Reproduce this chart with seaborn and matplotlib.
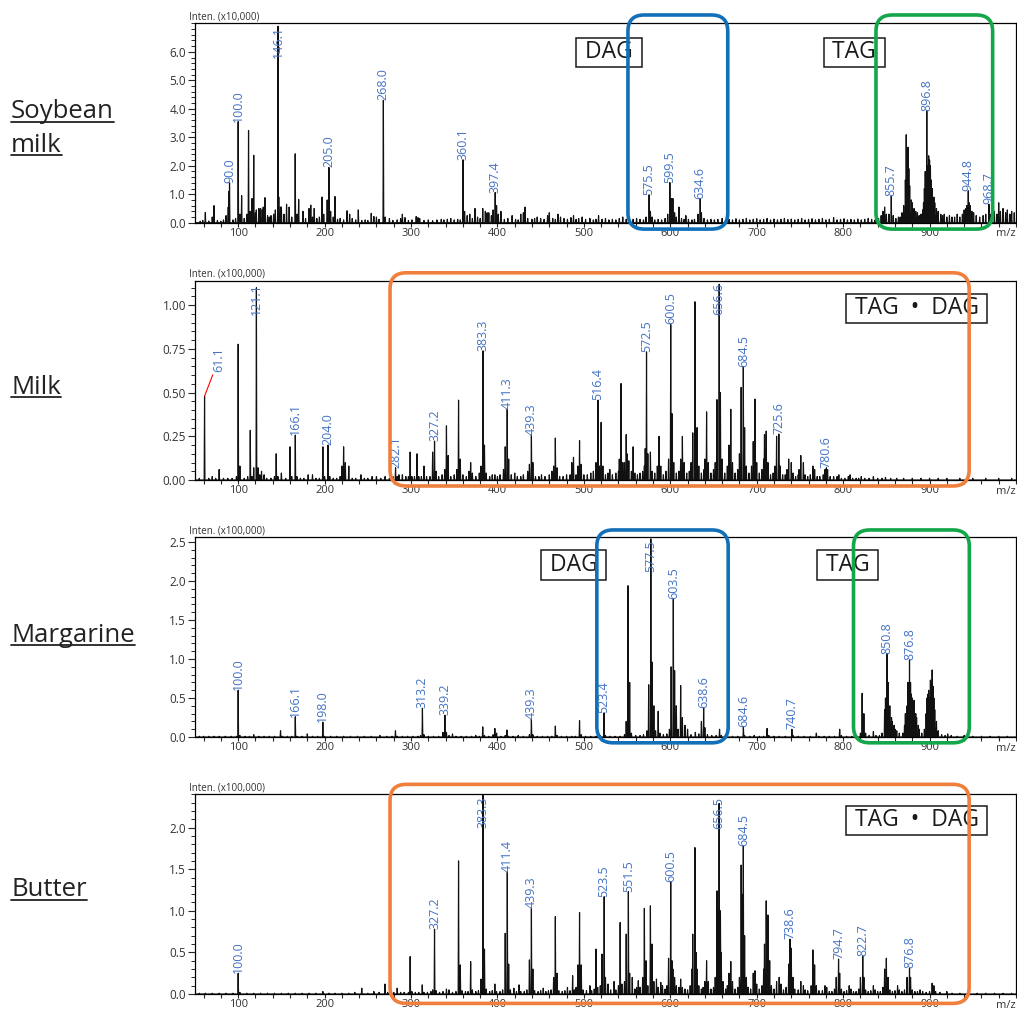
import pandas as pd
import seaborn as sns
import matplotlib.pyplot as plt
from matplotlib.patches import FancyBboxPatch
from matplotlib.lines import Line2D
from matplotlib.transforms import blended_transform_factory
from matplotlib.ticker import FixedLocator, MultipleLocator, FormatStrFormatter


# ---- data (m/z, relative intensity) ----
SOY_PEAKS = [
    (56, 0.05), (59, 0.08), (62, 0.36), (66, 0.06), (70, 0.2), (72, 0.6), (76, 0.08),
    (80, 0.05), (83, 0.1), (86, 0.25), (88.5, 0.55), (89.2, 1.1), (90.0, 1.4), (94, 0.1),
    (97, 0.15), (100.0, 3.55), (102, 0.3), (104, 0.95), (107, 0.15), (110, 0.3), (112, 3.24),
    (114, 0.4), (116, 0.85), (118, 2.37), (120, 0.35), (121, 0.45), (124, 0.5), (126, 0.5),
    (128, 0.45), (129, 0.55), (131, 0.88), (134, 0.25), (136, 0.2), (138, 0.25), (141, 0.3),
    (143, 0.45), (146.1, 6.9), (147, 0.9), (149, 0.55), (150, 0.55), (153, 0.3), (156, 0.65),
    (159, 0.55), (162, 0.2), (166, 2.42), (168, 0.3), (170, 0.82), (175, 0.4), (178, 0.15),
    (182, 0.5), (184, 0.62), (186, 0.2), (188, 0.5), (191, 0.15), (194, 0.2), (197, 0.9),
    (199, 0.3), (203, 0.8), (205.0, 1.94), (207, 0.4), (210, 0.2), (212, 0.92), (215, 0.12),
    (218, 0.15), (222, 0.1), (226, 0.42), (229, 0.3), (232, 0.15), (236, 0.1), (239, 0.45),
    (243, 0.08), (247, 0.1), (250, 0.08), (254, 0.33), (257, 0.22), (260, 0.2), (263, 0.12),
    (268.0, 4.3), (270, 0.2), (275, 0.15), (279, 0.08), (284, 0.1), (288, 0.15), (290, 0.3),
    (293, 0.18), (297, 0.08), (301, 0.1), (306, 0.22), (308, 0.18), (310, 0.15), (315, 0.08),
    (320, 0.1), (325, 0.07), (330, 0.1), (335, 0.12), (338, 0.1), (342, 0.12), (346, 0.15),
    (350, 0.1), (354, 0.12), (357, 0.1), (360.1, 2.21), (362, 0.4), (365, 0.25), (368, 0.3),
    (371, 0.15), (374, 0.5), (377, 0.2), (380, 0.15), (383, 0.5), (386, 0.4), (388, 0.35),
    (390, 0.35), (393, 0.25), (395, 0.45), (397.4, 1.06), (399, 0.6), (401, 0.3), (404, 0.4),
    (408, 0.12), (412, 0.15), (417, 0.25), (421, 0.12), (424, 0.1), (427, 0.3), (430, 0.35),
    (432, 0.55), (435, 0.15), (440, 0.12), (443, 0.15), (446, 0.2), (450, 0.15), (454, 0.12),
    (458, 0.25), (460, 0.35), (464, 0.15), (467, 0.12), (470, 0.3), (473, 0.2), (477, 0.15),
    (481, 0.12), (485, 0.18), (488, 0.25), (491, 0.12), (494, 0.15), (498, 0.2), (502, 0.12),
    (507, 0.15), (511, 0.1), (514, 0.12), (517, 0.25), (521, 0.12), (525, 0.15), (529, 0.1),
    (533, 0.12), (537, 0.1), (541, 0.15), (545, 0.2), (549, 0.12), (553, 0.1), (557, 0.12),
    (561, 0.15), (565, 0.12), (569, 0.1), (572, 0.2), (575.5, 0.98), (577, 0.4), (579, 0.2),
    (582, 0.1), (586, 0.12), (590, 0.1), (594, 0.15), (597, 0.3), (599.5, 1.41), (601, 0.85),
    (603, 0.85), (605, 0.35), (607, 0.2), (610, 0.55), (613, 0.15), (616, 0.12), (618, 0.25),
    (621, 0.12), (625, 0.1), (628, 0.12), (632, 0.3), (634.6, 0.85), (636, 0.35), (639, 0.15),
    (643, 0.1), (647, 0.12), (651, 0.1), (655, 0.12), (660, 0.15), (664, 0.1), (668, 0.12),
    (672, 0.1), (676, 0.14), (680, 0.1), (684, 0.12), (688, 0.15), (692, 0.1), (696, 0.12),
    (700, 0.14), (704, 0.1), (708, 0.12), (712, 0.15), (716, 0.1), (720, 0.13), (724, 0.1),
    (728, 0.12), (732, 0.15), (736, 0.11), (740, 0.13), (744, 0.1), (748, 0.12), (752, 0.15),
    (756, 0.1), (760, 0.12), (764, 0.14), (768, 0.1), (772, 0.12), (776, 0.15), (780, 0.1),
    (784, 0.12), (789, 0.18), (793, 0.1), (797, 0.12), (801, 0.14), (805, 0.1), (809, 0.12),
    (813, 0.1), (817, 0.13), (821, 0.1), (825, 0.12), (829, 0.15), (833, 0.12), (837, 0.1),
    (841, 0.15), (844, 0.25), (846, 0.4), (848, 0.55), (850, 0.3), (853, 0.3), (855.7, 0.94),
    (858, 0.25), (861, 0.15), (864, 0.2), (866, 0.2), (868, 0.35), (870, 0.6), (872, 1.5),
    (873, 3.09), (874, 2.0), (875, 2.65), (876, 1.9), (877, 1.3), (879, 0.8), (880, 0.7),
    (882, 0.5), (884, 0.4), (886, 0.35), (888, 0.25), (890, 0.3), (892, 0.45), (893, 0.7),
    (894, 1.2), (895, 1.8), (896.8, 3.94), (898, 2.0), (899, 2.35), (900, 2.2), (901, 2.0),
    (902, 1.5), (903, 1.2), (905, 0.9), (906, 0.7), (908, 0.5), (910, 0.4), (913, 0.3),
    (915, 0.25), (917, 0.3), (920, 0.2), (923, 0.25), (926, 0.2), (929, 0.2), (932, 0.3),
    (935, 0.2), (938, 0.3), (940, 0.45), (942, 0.5), (943, 0.6), (944.8, 1.12), (946, 0.7),
    (947, 0.6), (949, 0.4), (951, 0.35), (954, 0.25), (958, 0.2), (962, 0.25), (965, 0.3),
    (968.7, 0.65), (971, 0.3), (975, 0.4), (978, 0.3), (980, 0.7), (982, 0.4), (985, 0.5),
    (988, 0.35), (990, 0.45), (993, 0.3), (995, 0.4), (998, 0.35),
]
SOY_LABELS = [90.0, 100.0, 146.1, 205.0, 268.0, 360.1, 397.4, 575.5, 599.5, 634.6,
              855.7, 896.8, 944.8, 968.7]

MILK_PEAKS = [
    (55, 0.01), (61.1, 0.48), (66, 0.01), (70, 0.02), (74, 0.01), (78, 0.06), (83, 0.01),
    (88, 0.01), (93, 0.01), (98, 0.02), (100.0, 0.777), (102, 0.08), (107, 0.01), (111, 0.02),
    (114, 0.284), (116, 0.02), (118, 0.07), (121.1, 1.10), (123, 0.07), (125, 0.03), (127, 0.05),
    (130, 0.03), (133, 0.01), (138, 0.01), (142, 0.02), (144, 0.15), (146, 0.02), (150, 0.04),
    (155, 0.01), (160, 0.19), (162, 0.02), (166.1, 0.257), (168, 0.02), (172, 0.01), (176, 0.01),
    (181, 0.03), (186, 0.03), (190, 0.01), (194, 0.01), (198, 0.19), (200, 0.02), (204.0, 0.20),
    (206, 0.02), (210, 0.01), (214, 0.01), (218, 0.02), (220, 0.08), (222, 0.19), (224, 0.1),
    (228, 0.08), (232, 0.01), (236, 0.01), (242, 0.03), (246, 0.01), (250, 0.01), (255, 0.02),
    (260, 0.02), (265, 0.01), (270, 0.02), (275, 0.01), (279, 0.02), (282.1, 0.07), (284, 0.02),
    (286, 0.03), (290, 0.03), (294, 0.02), (297, 0.02), (299, 0.16), (301, 0.02), (304, 0.02),
    (307, 0.15), (309, 0.02), (312, 0.02), (315, 0.08), (318, 0.02), (322, 0.02), (325, 0.16),
    (327.2, 0.223), (329, 0.05), (332, 0.02), (336, 0.03), (339, 0.06), (341, 0.31), (343, 0.14),
    (346, 0.02), (350, 0.03), (353, 0.06), (355, 0.457), (357, 0.12), (360, 0.03), (364, 0.02),
    (367, 0.05), (369, 0.1), (371, 0.04), (375, 0.02), (379, 0.04), (381, 0.08), (383.3, 0.739),
    (385, 0.2), (387, 0.04), (391, 0.02), (394, 0.03), (397, 0.03), (400, 0.02), (403, 0.03),
    (407, 0.06), (409, 0.19), (411.3, 0.406), (413, 0.12), (416, 0.03), (420, 0.04), (423, 0.02),
    (427, 0.02), (430, 0.03), (435, 0.05), (437, 0.09), (439.3, 0.26), (441, 0.1), (444, 0.02),
    (448, 0.02), (451, 0.03), (455, 0.02), (460, 0.03), (463, 0.05), (465, 0.08), (467, 0.24),
    (469, 0.07), (472, 0.02), (476, 0.02), (480, 0.03), (484, 0.03), (486, 0.1), (488, 0.13),
    (491, 0.03), (493, 0.08), (495, 0.225), (497, 0.09), (500, 0.03), (504, 0.03), (508, 0.04),
    (511, 0.05), (514, 0.1), (516.4, 0.457), (518, 0.08), (520, 0.33), (522, 0.08), (525, 0.03),
    (528, 0.04), (530, 0.06), (533, 0.03), (537, 0.04), (540, 0.05), (541, 0.12), (543, 0.552),
    (545, 0.1), (547, 0.1), (549, 0.26), (550, 0.15), (552, 0.11), (555, 0.05), (557, 0.19),
    (559, 0.04), (562, 0.03), (565, 0.04), (568, 0.05), (570, 0.08), (571, 0.18), (572.5, 0.733),
    (574, 0.15), (577, 0.16), (579, 0.05), (582, 0.04), (585, 0.08), (587, 0.25), (589, 0.08),
    (592, 0.03), (595, 0.05), (598, 0.12), (600.5, 0.89), (602, 0.38), (604, 0.1), (607, 0.04),
    (610, 0.05), (612, 0.12), (614, 0.25), (616, 0.1), (619, 0.04), (622, 0.05), (624, 0.1),
    (626, 0.27), (628.5, 1.02), (631, 0.3), (633, 0.08), (636, 0.04), (639, 0.06), (640, 0.12),
    (642, 0.39), (644, 0.1), (647, 0.04), (650, 0.06), (652, 0.1), (654, 0.46), (656.6, 1.12),
    (658, 0.5), (660, 0.12), (663, 0.04), (666, 0.08), (668, 0.2), (670, 0.405), (672, 0.1),
    (675, 0.04), (678, 0.06), (680, 0.15), (682, 0.53), (684.5, 0.648), (686, 0.3), (688, 0.08),
    (691, 0.04), (694, 0.08), (696, 0.22), (698, 0.463), (700, 0.1), (703, 0.04), (706, 0.06),
    (708, 0.12), (709, 0.26), (711, 0.28), (713, 0.1), (716, 0.03), (719, 0.04), (721, 0.08),
    (723, 0.25), (725.6, 0.263), (727, 0.08), (730, 0.03), (733, 0.03), (735, 0.06), (737, 0.12),
    (740, 0.1), (742, 0.04), (745, 0.02), (748, 0.03), (749, 0.06), (751, 0.14), (754, 0.1),
    (756, 0.03), (759, 0.02), (762, 0.03), (765, 0.08), (767, 0.06), (770, 0.02), (773, 0.02),
    (777, 0.03), (779, 0.06), (780.6, 0.07), (782, 0.06), (785, 0.02), (789, 0.02), (793, 0.02),
    (795, 0.03), (798, 0.01), (802, 0.01), (806, 0.02), (808, 0.03), (811, 0.01), (815, 0.01),
    (818, 0.01), (821, 0.02), (825, 0.01), (830, 0.01), (835, 0.02), (840, 0.01), (845, 0.01),
    (849, 0.015), (855, 0.01), (862, 0.01), (870, 0.01), (880, 0.01), (890, 0.01), (900, 0.01),
    (910, 0.01), (920, 0.01), (935, 0.01), (950, 0.01), (965, 0.01), (980, 0.01), (995, 0.01),
]
MILK_LABELS = [61.1, 121.1, 166.1, 204.0, 282.1, 327.2, 383.3, 411.3, 439.3, 516.4,
               572.5, 600.5, 656.6, 684.5, 725.6, 780.6]

MARG_PEAKS = [
    (55, 0.01), (60, 0.01), (66, 0.01), (72, 0.01), (78, 0.01), (85, 0.01), (92, 0.01),
    (98, 0.01), (100.0, 0.60), (102, 0.02), (108, 0.01), (113, 0.01), (118, 0.03), (124, 0.01),
    (130, 0.01), (136, 0.01), (142, 0.01), (149, 0.08), (151, 0.01), (157, 0.01), (162, 0.01),
    (166.1, 0.26), (168, 0.01), (174, 0.01), (180, 0.04), (186, 0.01), (192, 0.01), (198.0, 0.19),
    (200, 0.01), (207, 0.01), (214, 0.01), (222, 0.01), (230, 0.01), (238, 0.01), (246, 0.01),
    (254, 0.01), (264, 0.02), (272, 0.01), (278, 0.01), (282, 0.08), (284, 0.01), (290, 0.01),
    (296, 0.01), (302, 0.01), (308, 0.01), (311, 0.02), (313.2, 0.37), (315, 0.03), (320, 0.01),
    (326, 0.01), (332, 0.01), (337, 0.06), (339.2, 0.28), (341, 0.06), (344, 0.02), (348, 0.04),
    (352, 0.01), (358, 0.01), (364, 0.01), (370, 0.01), (375, 0.02), (379, 0.01), (383, 0.13),
    (385, 0.02), (390, 0.01), (395, 0.03), (397, 0.11), (399, 0.05), (404, 0.01), (409, 0.02),
    (411, 0.09), (413, 0.01), (418, 0.01), (424, 0.02), (430, 0.01), (437, 0.03), (439.3, 0.23),
    (441, 0.03), (446, 0.01), (452, 0.01), (458, 0.01), (463, 0.01), (467, 0.14), (469, 0.02),
    (474, 0.01), (480, 0.01), (486, 0.01), (490, 0.01), (495, 0.21), (497, 0.03), (502, 0.01),
    (508, 0.01), (514, 0.01), (519, 0.02), (523.4, 0.31), (525, 0.02), (530, 0.01), (536, 0.01),
    (542, 0.01), (547, 0.03), (549, 0.2), (551, 1.94), (553, 0.7), (555, 0.05), (560, 0.02),
    (565, 0.02), (569, 0.03), (573, 0.08), (575, 0.67), (577.5, 2.54), (579, 0.96), (581, 0.4),
    (583, 0.08), (586, 0.33), (588, 0.05), (592, 0.03), (596, 0.04), (599, 0.1), (601, 0.9),
    (603.5, 1.77), (605, 0.85), (607, 0.4), (609, 0.1), (612, 0.66), (614, 0.25), (617, 0.15),
    (620, 0.1), (624, 0.03), (629, 0.06), (633, 0.04), (636, 0.2), (638.6, 0.376), (640, 0.12),
    (643, 0.03), (648, 0.02), (653, 0.02), (657, 0.1), (659, 0.02), (665, 0.01), (672, 0.01),
    (678, 0.01), (684.6, 0.13), (686, 0.02), (692, 0.01), (697, 0.02), (703, 0.01), (708, 0.01),
    (712, 0.11), (714, 0.02), (720, 0.01), (726, 0.01), (733, 0.01), (740.7, 0.1), (742, 0.02),
    (748, 0.01), (755, 0.01), (762, 0.01), (769, 0.05), (772, 0.01), (778, 0.01), (784, 0.01),
    (790, 0.01), (796, 0.1), (798, 0.02), (804, 0.01), (810, 0.01), (816, 0.01), (820, 0.05),
    (822, 0.56), (824, 0.3), (826, 0.05), (830, 0.02), (835, 0.07), (838, 0.02), (842, 0.02),
    (845, 0.05), (848, 0.35), (849, 0.5), (850.8, 1.07), (852, 0.7), (854, 0.4), (856, 0.25),
    (857, 0.2), (859, 0.15), (860, 0.1), (862, 0.08), (865, 0.05), (869, 0.05), (871, 0.15),
    (872, 0.3), (874, 0.4), (875, 0.7), (876.8, 0.99), (878, 0.7), (879, 0.55), (880, 0.5),
    (882, 0.47), (884, 0.3), (885, 0.25), (887, 0.15), (888, 0.1), (891, 0.05), (894, 0.1),
    (896, 0.3), (897, 0.5), (898, 0.55), (899, 0.6), (900, 0.5), (901, 0.73), (902, 0.7),
    (903, 0.86), (904, 0.65), (905, 0.5), (906, 0.35), (908, 0.2), (910, 0.08), (914, 0.03),
    (918, 0.02), (921, 0.04), (925, 0.02), (932, 0.01), (940, 0.02), (950, 0.01), (960, 0.01),
    (970, 0.01), (980, 0.01), (990, 0.01),
]
MARG_LABELS = [100.0, 166.1, 198.0, 313.2, 339.2, 439.3, 523.4, 577.5, 603.5, 638.6,
               684.6, 740.7, 850.8, 876.8]

BUTTER_PEAKS = [
    (55, 0.01), (62, 0.01), (70, 0.01), (78, 0.01), (86, 0.01), (94, 0.01), (100.0, 0.25),
    (102, 0.02), (110, 0.01), (118, 0.01), (126, 0.01), (134, 0.01), (142, 0.01), (150, 0.01),
    (158, 0.01), (166, 0.01), (174, 0.01), (182, 0.01), (190, 0.01), (198, 0.03), (205, 0.01),
    (212, 0.01), (220, 0.01), (228, 0.01), (235, 0.02), (243, 0.07), (250, 0.01), (257, 0.03),
    (263, 0.02), (270, 0.12), (273, 0.02), (276, 0.03), (280, 0.02), (284, 0.07), (288, 0.02),
    (292, 0.02), (297, 0.02), (299, 0.45), (301, 0.03), (305, 0.02), (309, 0.02), (313, 0.11),
    (315, 0.02), (319, 0.02), (323, 0.03), (325, 0.05), (327.2, 0.78), (329, 0.04), (333, 0.02),
    (337, 0.03), (341, 0.06), (344, 0.05), (348, 0.02), (352, 0.03), (355, 1.6), (357, 0.35),
    (359, 0.04), (363, 0.03), (366, 0.03), (369, 0.39), (371, 0.05), (375, 0.03), (378, 0.04),
    (381, 0.18), (383.3, 2.39), (385, 0.54), (387, 0.06), (391, 0.03), (394, 0.04), (397, 0.12),
    (399, 0.03), (403, 0.03), (406, 0.05), (409, 0.73), (411.4, 1.47), (413, 0.36), (415, 0.05),
    (419, 0.07), (422, 0.03), (425, 0.11), (427, 0.03), (431, 0.03), (434, 0.05), (437, 0.41),
    (439.3, 1.03), (441, 0.3), (443, 0.04), (447, 0.03), (450, 0.04), (453, 0.07), (456, 0.03),
    (459, 0.04), (462, 0.05), (465, 0.2), (467, 0.93), (469, 0.25), (471, 0.04), (475, 0.03),
    (478, 0.04), (481, 0.08), (484, 0.04), (487, 0.22), (489, 0.05), (491, 0.08), (493, 0.35),
    (495, 0.98), (497, 0.35), (499, 0.05), (503, 0.04), (507, 0.1), (509, 0.04), (512, 0.06),
    (514, 0.54), (516, 0.08), (519, 0.1), (521, 0.48), (523.5, 1.17), (525, 0.2), (528, 0.12),
    (531, 0.05), (535, 0.15), (537, 0.05), (540, 0.1), (542, 0.86), (544, 0.12), (547, 0.15),
    (549, 0.72), (551.5, 1.23), (553, 0.25), (556, 0.2), (559, 0.06), (561, 0.08), (563, 0.16),
    (565, 0.08), (568, 0.2), (570, 1.03), (572, 0.4), (574, 0.1), (577, 1.06), (579, 0.6),
    (581, 0.15), (584, 0.18), (586, 0.08), (589, 0.14), (591, 0.1), (594, 0.06), (596, 0.1),
    (598, 0.43), (600.5, 1.35), (602, 0.4), (603, 0.3), (605, 0.2), (607, 0.1), (610, 0.08),
    (612, 0.18), (614, 0.08), (617, 0.06), (620, 0.05), (623, 0.1), (625, 0.3), (626, 0.72),
    (628.5, 1.76), (630, 0.5), (631, 0.3), (633, 0.1), (636, 0.06), (638, 0.08), (640, 0.15),
    (642, 0.4), (644, 0.15), (647, 0.06), (650, 0.08), (652, 0.2), (654, 1.24), (655, 1.0),
    (656.5, 2.29), (658, 1.0), (659, 0.5), (661, 0.15), (664, 0.06), (666, 0.1), (668, 0.25),
    (670, 0.39), (672, 0.15), (675, 0.06), (678, 0.08), (680, 0.2), (682, 1.55), (683, 1.2),
    (684.5, 1.78), (686, 0.7), (688, 0.2), (690, 0.08), (693, 0.06), (696, 0.25), (698, 0.28),
    (700, 0.12), (703, 0.06), (706, 0.1), (708, 0.3), (709, 0.6), (711, 1.12), (712, 0.9),
    (713, 0.95), (715, 0.4), (717, 0.1), (720, 0.06), (723, 0.15), (726, 0.2), (728, 0.12),
    (731, 0.05), (734, 0.08), (737, 0.36), (738.6, 0.66), (740, 0.55), (742, 0.2), (744, 0.06),
    (748, 0.05), (751, 0.15), (754, 0.1), (756, 0.05), (759, 0.04), (763, 0.1), (765, 0.53),
    (767, 0.35), (769, 0.1), (772, 0.04), (776, 0.04), (779, 0.1), (781, 0.08), (784, 0.03),
    (787, 0.03), (790, 0.06), (792, 0.2), (794.7, 0.42), (796, 0.25), (798, 0.06), (801, 0.03),
    (804, 0.04), (807, 0.1), (809, 0.06), (812, 0.03), (815, 0.03), (818, 0.06), (820, 0.2),
    (822.7, 0.46), (824, 0.2), (826, 0.05), (829, 0.03), (832, 0.04), (835, 0.1), (837, 0.05),
    (840, 0.03), (843, 0.03), (846, 0.08), (848, 0.3), (850, 0.43), (852, 0.2), (854, 0.05),
    (857, 0.03), (860, 0.04), (863, 0.1), (865, 0.05), (868, 0.03), (871, 0.05), (874, 0.2),
    (876.8, 0.31), (878, 0.2), (880, 0.05), (883, 0.03), (886, 0.03), (889, 0.05), (892, 0.03),
    (896, 0.02), (900, 0.03), (903, 0.13), (905, 0.1), (907, 0.03), (912, 0.02), (920, 0.03),
    (926, 0.01), (935, 0.01), (945, 0.01), (955, 0.01), (965, 0.01), (975, 0.01), (985, 0.01),
    (995, 0.01),
]
BUTTER_LABELS = [100.0, 327.2, 383.3, 411.4, 439.3, 523.5, 551.5, 600.5, 656.5, 684.5,
                 738.6, 794.7, 822.7, 876.8]

SAMPLE_NAMES = [["Soybean", "milk"], ["Milk"], ["Margarine"], ["Butter"]]
UNITS = ["Inten. (x10,000)", "Inten. (x100,000)", "Inten. (x100,000)", "Inten. (x100,000)"]

BLUE_LABEL = "#4473c4"
DAG_BLUE = "#1170b8"
TAG_GREEN = "#13a64a"
MIX_ORANGE = "#f07f3c"

PANELS = [
    dict(peaks=SOY_PEAKS, labels=SOY_LABELS, ymax=7.0, yticks=[0, 1, 2, 3, 4, 5, 6],
         minor=0.2, fmt="%.1f", bottom=0.7797, height=0.1972, name_base=[118.5, 151.5],
         boxes=[(551, 666.5, DAG_BLUE), (838, 973, TAG_GREEN)], box_y=(-0.032, 1.042),
         tags=[("DAG", 529, 0.854), ("TAG", 813, 0.854)]),
    dict(peaks=MILK_PEAKS, labels=MILK_LABELS, ymax=1.14, yticks=[0, 0.25, 0.5, 0.75, 1.0],
         minor=0.05, fmt="%.2f", bottom=0.5252, height=0.1971, name_base=[393.5],
         boxes=[(275.7, 945.8, MIX_ORANGE)], box_y=(-0.03, 1.04),
         tags=[("TAG  \u2022  DAG", 885, 0.862)]),
    dict(peaks=MARG_PEAKS, labels=MARG_LABELS, ymax=2.56, yticks=[0, 0.5, 1.0, 1.5, 2.0, 2.5],
         minor=0.1, fmt="%.1f", bottom=0.2710, height=0.1975, name_base=[641.5],
         boxes=[(515, 667, DAG_BLUE), (812, 946, TAG_GREEN)], box_y=(-0.029, 1.037),
         tags=[("DAG", 488, 0.862), ("TAG", 805, 0.862)]),
    dict(peaks=BUTTER_PEAKS, labels=BUTTER_LABELS, ymax=2.4, yticks=[0, 0.5, 1.0, 1.5, 2.0],
         minor=0.1, fmt="%.1f", bottom=0.0168, height=0.1975, name_base=[896.5],
         boxes=[(275.7, 945.8, MIX_ORANGE)], box_y=(-0.047, 1.05),
         tags=[("TAG  \u2022  DAG", 885, 0.87)]),
]

# label of 61.1 in the milk spectrum is pulled aside with a red leader
LEADERS = {61.1: (77.5, 0.62)}

XLIM = (50, 1000)
XTICKS = [100, 200, 300, 400, 500, 600, 700, 800, 900]
FIG_W, FIG_H = 1017, 1011


def stick_frame(peaks, half=0.45):
    rows = [(XLIM[0], 0.0)]
    for mz, h in sorted(peaks):
        rows += [(mz - half, 0.0), (mz, h), (mz + half, 0.0)]
    rows.append((XLIM[1], 0.0))
    return pd.DataFrame(rows, columns=["mz", "inten"])


def main() -> None:
    sns.set_theme(style="ticks")
    plt.rcParams["font.family"] = ["Open Sans", "DejaVu Sans"]
    plt.rcParams["axes.linewidth"] = 0.9

    fig = plt.figure(figsize=(FIG_W / 100, FIG_H / 100), dpi=100)
    renderer = fig.canvas.get_renderer()
    to_fig = fig.transFigure.inverted()

    for i, p in enumerate(PANELS):
        ax = fig.add_axes([0.1917, p["bottom"], 0.8073, p["height"]])
        df = stick_frame(p["peaks"])
        sns.lineplot(data=df, x="mz", y="inten", sort=False, estimator=None,
                     color="#111111", linewidth=0.85, ax=ax)
        ax.set_xlim(*XLIM)
        ax.set_ylim(0, p["ymax"])
        ax.set_xlabel("")
        ax.set_ylabel("")
        for sp in ax.spines.values():
            sp.set_color("black")
            sp.set_linewidth(0.9)

        ax.xaxis.set_major_locator(FixedLocator(XTICKS))
        ax.xaxis.set_minor_locator(MultipleLocator(20))
        ax.yaxis.set_major_locator(FixedLocator(p["yticks"]))
        ax.yaxis.set_minor_locator(MultipleLocator(p["minor"]))
        ax.yaxis.set_major_formatter(FormatStrFormatter(p["fmt"]))
        ax.tick_params(axis="x", which="both", direction="out", length=3, width=0.8,
                       labelsize=8, labelcolor="#333333", pad=0.5)
        ax.tick_params(axis="y", which="major", direction="out", length=5, width=0.8,
                       labelsize=8.5, labelcolor="#333333", pad=1.5)
        ax.tick_params(axis="y", which="minor", direction="out", length=3, width=0.7)

        ax.text(-0.007, 1.004, UNITS[i], transform=ax.transAxes, ha="left", va="bottom",
                fontsize=7, color="#333333")
        ax.text(1.0, -0.028, "m/z", transform=ax.transAxes, ha="right", va="top",
                fontsize=8, color="#333333")

        # peak labels
        peak_map = dict(p["peaks"])
        ax_h_px = p["height"] * FIG_H
        lab_h = 33 / ax_h_px * p["ymax"]
        for mz in p["labels"]:
            h = peak_map[mz]
            txt = f"{mz:.1f}"
            style = dict(rotation=90, ha="center", color=BLUE_LABEL, fontsize=9, zorder=4)
            if mz in LEADERS and i == 1:
                lx, ly = LEADERS[mz]
                ax.annotate(txt, xy=(mz, h), xytext=(lx, ly), va="bottom",
                            arrowprops=dict(arrowstyle="-", color="red", lw=0.8,
                                            shrinkA=0, shrinkB=0), **style)
            elif h + lab_h > p["ymax"]:
                ax.text(mz, p["ymax"] - 2.5 / ax_h_px * p["ymax"], txt, va="top", **style)
            else:
                ax.text(mz, h, txt, va="bottom", **style)

        blend = blended_transform_factory(ax.transData, ax.transAxes)

        # DAG / TAG tags
        for text, x, yf in p["tags"]:
            ax.text(x, yf, f" {text} ", transform=blend, ha="center", va="center",
                    fontsize=16.5, color="#1a1a1a", zorder=6,
                    bbox=dict(boxstyle="square,pad=0.12", fc="white", ec="#1a1a1a", lw=1.1))

        # rounded highlight boxes, drawn on top at figure level
        y0f, y1f = p["box_y"]
        for x0, x1, col in p["boxes"]:
            (fx0, fy0) = to_fig.transform(blend.transform((x0, y0f)))
            (fx1, fy1) = to_fig.transform(blend.transform((x1, y1f)))
            box = FancyBboxPatch((fx0, fy0), fx1 - fx0, fy1 - fy0,
                                 boxstyle="round,pad=0,rounding_size=0.016",
                                 transform=fig.transFigure, fill=False, ec=col, lw=2.6,
                                 zorder=10)
            fig.add_artist(box)

        # underlined sample names on the left
        for line, base_px in zip(SAMPLE_NAMES[i], p["name_base"]):
            yb = 1 - base_px / FIG_H
            t = fig.text(11 / FIG_W, yb, line, ha="left", va="baseline", fontsize=18.5,
                         color="#222222")
            bb = t.get_window_extent(renderer)
            ux0 = bb.x0 / FIG_W
            ux1 = bb.x1 / FIG_W
            uy = yb - 3.0 / FIG_H
            fig.add_artist(Line2D([ux0, ux1], [uy, uy], transform=fig.transFigure,
                                  color="#222222", lw=1.3))

    fig.savefig("out.png", dpi=100)
    plt.close(fig)


if __name__ == "__main__":
    main()
